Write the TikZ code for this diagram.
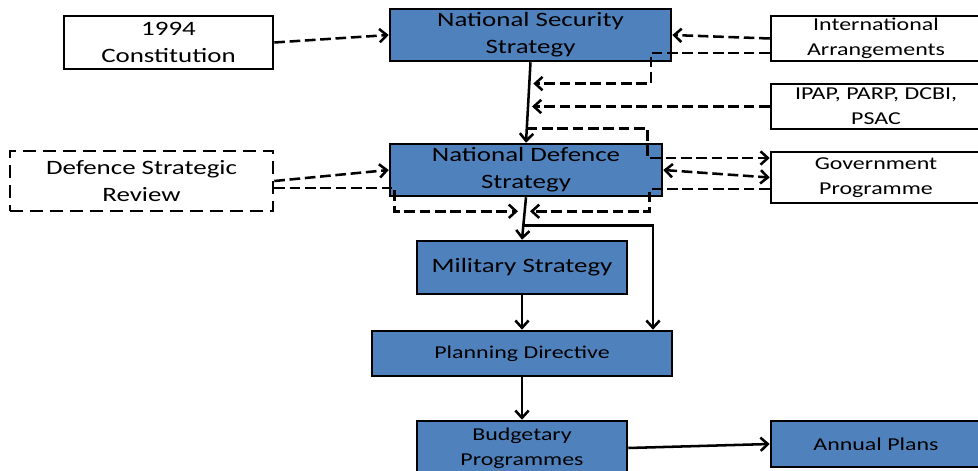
\documentclass[tikz,border=0pt]{standalone}
\usepackage{fontspec}
\setmainfont{Carlito}[FakeStretch=1.32]
\usetikzlibrary{arrows.meta,calc}
\definecolor{stratblue}{RGB}{79,129,189}

\begin{document}
\begin{tikzpicture}[x=0.75pt,y=-0.75pt,
    >={Straight Barb[length=5.5pt,width=10pt]},
    box/.style={draw,line width=1.9pt,inner sep=0pt,align=center,font=\fontsize{15.3}{20.5}\selectfont},
    smallbox/.style={box,font=\fontsize{13.6}{18.5}\selectfont},
    bluebox/.style={box,fill=stratblue},
    flow/.style={line width=1.9pt,->},
    feed/.style={flow,dash pattern=on 8pt off 3.5pt}]
    \useasboundingbox (0,0) rectangle (978,471);

    \node (con) [box,minimum width=156.8pt,minimum height=39.8pt] at (168.5,42.5) {1994 \\ Constitution};
    \node (nss) [bluebox,minimum width=210.8pt,minimum height=39pt] at (530.5,35) {National Security \\ Strategy};
    \node (ia) [smallbox,minimum width=157.5pt,minimum height=33.8pt] at (876,38.5) {International \\ Arrangements};
    \node (ipap) [smallbox,minimum width=157.5pt,minimum height=33.8pt] at (876,106.5) {IPAP, PARP, DCBI, \\ PSAC};
    \node (dsr) [box,dash pattern=on 10pt off 5pt,minimum width=197.3pt,minimum height=45pt] at (141.5,181) {Defence Strategic \\ Review};
    \node (nds) [bluebox,minimum width=204pt,minimum height=39pt] at (526,170) {National Defence \\ Strategy};
    \node (gp) [smallbox,minimum width=157.5pt,minimum height=38.3pt] at (876,177.5) {Government \\ Programme};
    \node (ms) [bluebox,minimum width=157.5pt,minimum height=39.8pt] at (522,267.5) {Military Strategy};
    \node (pd) [bluebox,smallbox,fill=stratblue,minimum width=225pt,minimum height=33.8pt] at (522,353.5) {Planning Directive};
    \node (bp) [bluebox,smallbox,fill=stratblue,minimum width=157.5pt,minimum height=40.5pt] at (522,448) {Budgetary \\ Programmes};
    \node (ap) [bluebox,smallbox,fill=stratblue,minimum width=157.5pt,minimum height=34.5pt] at (876,444) {Annual Plans};

    \coordinate (j1) at ($(nss.south)!0.265!(nds.north)$);
    \coordinate (j2) at ($(nss.south)!0.554!(nds.north)$);
    \coordinate (j3) at ($(nss.south)!0.82!(nds.north)$);
    \coordinate (k1) at ($(nds.south)!0.33!(ms.north)$);
    \coordinate (k2) at ($(nds.south)!0.667!(ms.north)$);

    \draw[flow] (nss.south) -- (nds.north);
    \draw[flow] (nds.south) -- (ms.north);
    \draw[flow] (ms.south) -- (pd.north);
    \draw[flow] (pd.south) -- (bp.north);
    \draw[flow] (bp.east) -- (ap.west);
    \draw[flow] (k2) -| ([shift={(131,0)}]pd.north);

    \draw[feed] (con.east) -- (nss.west);
    \draw[feed] (ia.west) -- (nss.east);
    \draw[feed,shorten >=3pt] ([shift={(0,14.5)}]ia.west) -| ([shift={(121.5,0)}]j1) -- (j1);
    \draw[feed,shorten >=3pt] (ipap.west) -- (ipap.west -| j2);
    \draw[feed] (j3) -| ([shift={(-122,-19.5)}]gp.west) -- ([shift={(0,-19.5)}]gp.west);
    \draw[feed,<->] (nds.east) -- (gp.west);
    \draw[feed,shorten >=4pt] ([shift={(0,11.5)}]gp.west) -| ([shift={(125,0)}]k1) -- (k1);
    \draw[feed] (dsr.east) -- (nds.west);
    \draw[feed,shorten >=5pt] ([shift={(0,7)}]dsr.east) -| ([shift={(-130,0)}]k1) -- (k1);
\end{tikzpicture}
\end{document}
